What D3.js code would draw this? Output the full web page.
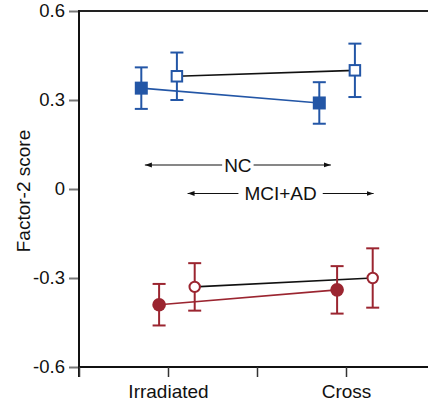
<!DOCTYPE html>
<html>
<head>
<meta charset="utf-8">
<script src="https://cdn.jsdelivr.net/npm/d3@7"></script>
<style>
  html, body { margin: 0; padding: 0; background: #fff; }
  svg { display: block; font-family: "Liberation Sans", Arial, Helvetica, sans-serif; }
</style>
</head>
<body>
<svg id="chart" width="428" height="405"></svg>
<script>
// Group axis: two conditions placed at positions 1 and 3
const conditions = ["Irradiated", "Cross"];
const conditionPos = [1, 3];
const yTicks = [0.6, 0.3, 0, -0.3, -0.6];

// Factor-2 scores (mean, lower, upper) per condition
const ncBlue       = [0.34, 0.29];
const ncBlueLo     = [0.27, 0.22];
const ncBlueHi     = [0.41, 0.36];
const mciBlue      = [0.38, 0.40];
const mciBlueLo    = [0.30, 0.31];
const mciBlueHi    = [0.46, 0.49];
const ncRed        = [-0.39, -0.34];
const ncRedLo      = [-0.46, -0.42];
const ncRedHi      = [-0.32, -0.26];
const mciRed       = [-0.33, -0.30];
const mciRedLo     = [-0.41, -0.40];
const mciRedHi     = [-0.25, -0.20];

// Horizontal offsets (in group units) used to dodge the four series
const seriesOffset = { ncBlue: -0.3, mciBlue: 0.1, ncRed: -0.1, mciRed: 0.3 };

// Group bracket annotations: label, x-extent in group units, y level
const bracketLabels = ["NC", "MCI+AD"];
const bracketFrom   = [0.74, 1.22];
const bracketTo     = [2.83, 3.31];
const bracketY      = [0.081, -0.015];

const BLUE = "#2356a6";
const RED  = "#9b2530";

const svg = d3.select("#chart");
const plotL = 79, plotR = 428, plotT = 11, plotB = 367;

const x = d3.scaleLinear().domain([0, (plotR - plotL) / 89]).range([plotL, plotR]);
const y = d3.scaleLinear().domain([-0.6, 0.6]).range([plotB, plotT]);

// arrowhead marker
const defs = svg.append("defs");
defs.append("marker")
  .attr("id", "arrow-end")
  .attr("viewBox", "0 0 10 10")
  .attr("refX", 10).attr("refY", 5)
  .attr("markerWidth", 7).attr("markerHeight", 7)
  .attr("markerUnits", "userSpaceOnUse")
  .attr("orient", "auto")
  .append("path")
  .attr("d", "M0,1.5 L10,5 L0,8.5 Z")
  .attr("fill", "#111");

// top frame line
svg.append("line")
  .attr("x1", plotL).attr("x2", plotR).attr("y1", plotT).attr("y2", plotT)
  .attr("stroke", "#222").attr("stroke-width", 2);

// Y axis
const yAxis = svg.append("g")
  .attr("transform", `translate(${plotL},0)`)
  .call(d3.axisLeft(y).tickValues(yTicks).tickSize(10).tickPadding(4)
    .tickFormat(d => d === 0 ? "0" : d.toFixed(1)));
yAxis.select(".domain").remove();
yAxis.selectAll(".tick line").attr("stroke", "#777").attr("stroke-width", 2);
yAxis.selectAll(".tick text").attr("font-size", 18.5).attr("fill", "#111")
  .attr("font-family", "Liberation Sans, Arial, sans-serif");
svg.append("line")
  .attr("x1", plotL).attr("x2", plotL).attr("y1", plotT - 1).attr("y2", plotB + 10)
  .attr("stroke", "#111").attr("stroke-width", 2);

// X axis
const xAxis = svg.append("g")
  .attr("transform", `translate(0,${plotB})`)
  .call(d3.axisBottom(x).tickValues([0, 1, 2, 3]).tickSize(10).tickPadding(8)
    .tickFormat(d => { const i = conditionPos.indexOf(d); return i >= 0 ? conditions[i] : ""; }));
xAxis.select(".domain").attr("stroke", "#111").attr("stroke-width", 2)
  .attr("d", `M${plotL - 1},0H${plotR}`);
xAxis.selectAll(".tick line").attr("stroke", "#333").attr("stroke-width", 1.5);
xAxis.selectAll(".tick text").attr("font-size", 19).attr("fill", "#111")
  .attr("font-family", "Liberation Sans, Arial, sans-serif");

// Y axis title
svg.append("text")
  .attr("transform", `translate(29.5,${(plotT + plotB) / 2 + 2}) rotate(-90)`)
  .attr("text-anchor", "middle")
  .attr("font-size", 19).attr("fill", "#111")
  .text("Factor-2 score");

// Series definitions
const series = [
  { key: "ncBlue",  mean: ncBlue,  lo: ncBlueLo,  hi: ncBlueHi,  color: BLUE, shape: "square", filled: true  },
  { key: "mciBlue", mean: mciBlue, lo: mciBlueLo, hi: mciBlueHi, color: BLUE, shape: "square", filled: false },
  { key: "ncRed",   mean: ncRed,   lo: ncRedLo,   hi: ncRedHi,   color: RED,  shape: "circle", filled: true  },
  { key: "mciRed",  mean: mciRed,  lo: mciRedLo,  hi: mciRedHi,  color: RED,  shape: "circle", filled: false }
];
series.forEach(s => {
  s.points = conditionPos.map((p, i) => ({
    x: p + seriesOffset[s.key], m: s.mean[i], lo: s.lo[i], hi: s.hi[i]
  }));
});

const line = d3.line().x(d => x(d.x)).y(d => y(d.m));

// connecting lines: filled series in series colour, open series in black
series.forEach(s => {
  svg.append("path")
    .datum(s.points)
    .attr("d", line)
    .attr("fill", "none")
    .attr("stroke", s.filled ? s.color : "#111")
    .attr("stroke-width", 1.6);
});

// error bars
const cap = 6.5;
series.forEach(s => {
  const g = svg.append("g").attr("stroke", s.color).attr("stroke-width", 2).attr("fill", "none");
  s.points.forEach(d => {
    g.append("line").attr("x1", x(d.x)).attr("x2", x(d.x)).attr("y1", y(d.lo)).attr("y2", y(d.hi));
    g.append("line").attr("x1", x(d.x) - cap).attr("x2", x(d.x) + cap).attr("y1", y(d.lo)).attr("y2", y(d.lo));
    g.append("line").attr("x1", x(d.x) - cap).attr("x2", x(d.x) + cap).attr("y1", y(d.hi)).attr("y2", y(d.hi));
  });
});

// markers
series.forEach(s => {
  s.points.forEach(d => {
    if (s.shape === "square") {
      const sz = s.filled ? 13 : 10.5;
      svg.append("rect")
        .attr("x", x(d.x) - sz / 2).attr("y", y(d.m) - sz / 2)
        .attr("width", sz).attr("height", sz)
        .attr("fill", s.filled ? s.color : "#fff")
        .attr("stroke", s.color).attr("stroke-width", s.filled ? 0 : 2);
    } else {
      svg.append("circle")
        .attr("cx", x(d.x)).attr("cy", y(d.m))
        .attr("r", s.filled ? 6.8 : 5.2)
        .attr("fill", s.filled ? s.color : "#fff")
        .attr("stroke", s.color).attr("stroke-width", s.filled ? 0 : 2);
    }
  });
});

// group brackets with double arrows and centred labels
bracketLabels.forEach((lab, i) => {
  const x0 = x(bracketFrom[i]), x1 = x(bracketTo[i]), yy = y(bracketY[i]);
  const cx = (x0 + x1) / 2;
  const t = svg.append("text")
    .attr("x", cx).attr("y", yy).attr("dy", "0.36em")
    .attr("text-anchor", "middle")
    .attr("font-size", 19).attr("fill", "#111")
    .text(lab);
  const w = t.node().getComputedTextLength();
  const pad = i === 0 ? 2 : 6;
  svg.append("line")
    .attr("x1", cx - w / 2 - pad).attr("x2", x0).attr("y1", yy).attr("y2", yy)
    .attr("stroke", "#111").attr("stroke-width", 1.1)
    .attr("marker-end", "url(#arrow-end)");
  svg.append("line")
    .attr("x1", cx + w / 2 + pad).attr("x2", x1).attr("y1", yy).attr("y2", yy)
    .attr("stroke", "#111").attr("stroke-width", 1.1)
    .attr("marker-end", "url(#arrow-end)");
});
</script>
</body>
</html>
